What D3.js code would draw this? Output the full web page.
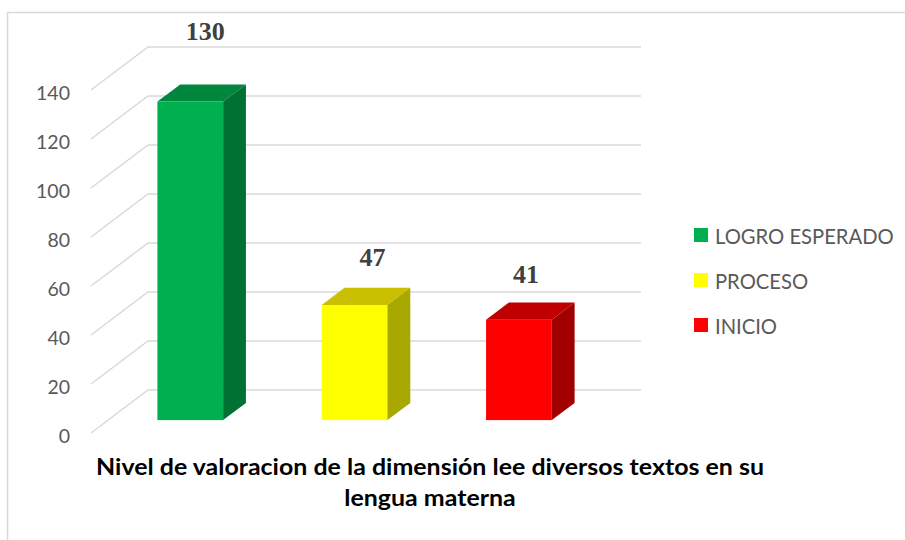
<!DOCTYPE html>
<html>
<head>
<meta charset="utf-8">
<script src="https://cdn.jsdelivr.net/npm/d3@7"></script>
<style>
  body { margin: 0; background: #fff; }
  svg { display: block; }
</style>
</head>
<body>
<script>
//Chart data//
var categories = ["LOGRO ESPERADO", "PROCESO", "INICIO"];
var values = [130, 47, 41];
var yTicks = [0, 20, 40, 60, 80, 100, 120, 140];
var titleLines = ["Nivel de valoracion de la dimensión lee diversos textos en su", "lengua materna"];

//Colours: front, top, side
var colors = {
  "LOGRO ESPERADO": ["#00b050", "#00873d", "#007033"],
  "PROCESO": ["#ffff00", "#c8c000", "#a8a800"],
  "INICIO": ["#ff0000", "#c00000", "#a00000"]
};

var W = 905, H = 540;
//depth vector from back wall to front edge of floor
var dx = -57, dy = 43;
var fFront = 0.7, fBack = 0.3;

var svg = d3.select("body")
  .append("svg")
  .attr("width", W)
  .attr("height", H);

//outer frame
svg.append("rect")
  .attr("x", 7.5).attr("y", 12.5)
  .attr("width", W).attr("height", H)
  .style("fill", "#fff")
  .style("stroke", "#d9d9d9")
  .style("stroke-width", 1.5);

//Scales on the back wall
var x = d3.scaleBand()
  .domain(categories)
  .range([148, 641])
  .paddingInner(0.6)
  .paddingOuter(0.3);
var y = d3.scaleLinear()
  .domain([0, 140])
  .range([390, 47]);

function proj(px, py, f) {
  return [px + f * dx, py + f * dy];
}

//Gridlines: diagonal on the side wall + back wall line
var x0 = x.range()[0], x1 = x.range()[1];
svg.append("g").selectAll("path")
  .data(yTicks)
  .enter()
  .append("path")
  .attr("d", function(t) {
    var p = proj(x0, y(t), 1);
    return "M" + p[0] + "," + p[1] + "L" + x0 + "," + y(t) + "L" + x1 + "," + y(t);
  })
  .style("fill", "none")
  .style("stroke", "#d9d9d9")
  .style("stroke-width", 1.5);

//Tick labels
svg.append("g").selectAll("text")
  .data(yTicks)
  .enter()
  .append("text")
  .attr("x", 70)
  .attr("y", function(t) { return y(t) + dy + 2; })
  .attr("text-anchor", "end")
  .attr("dominant-baseline", "central")
  .style("font-family", "Lato, 'Open Sans', sans-serif")
  .style("font-size", "19.5px")
  .style("fill", "#595959")
  .text(function(t) { return t; });

//3D bars
var bars = svg.append("g").selectAll("g")
  .data(categories)
  .enter()
  .append("g");

bars.each(function(c, i) {
  var g = d3.select(this);
  var v = values[i];
  var bx = x(c), bw = x.bandwidth();
  var fl = proj(bx, y(0), fFront), ft = proj(bx, y(v), fFront);
  var bl = proj(bx, y(0), fBack), bt = proj(bx, y(v), fBack);
  var col = colors[c];
  //front face
  g.append("rect")
    .attr("x", ft[0]).attr("y", ft[1])
    .attr("width", bw).attr("height", fl[1] - ft[1])
    .style("fill", col[0]);
  //top face
  g.append("polygon")
    .attr("points", [
      [ft[0], ft[1]], [ft[0] + bw, ft[1]], [bt[0] + bw, bt[1]], [bt[0], bt[1]]
    ].join(" "))
    .style("fill", col[1]);
  //side face
  g.append("polygon")
    .attr("points", [
      [ft[0] + bw, ft[1]], [bt[0] + bw, bt[1]], [bl[0] + bw, bl[1]], [fl[0] + bw, fl[1]]
    ].join(" "))
    .style("fill", col[2]);
});

//Value labels (130 sits higher, as in the original)
var lift = [44, 22, 19];
var nudge = [15, 18, 7];
svg.append("g").selectAll("text")
  .data(categories)
  .enter()
  .append("text")
  .attr("x", function(c, i) { return proj(x(c), 0, fFront)[0] + x.bandwidth() / 2 + nudge[i]; })
  .attr("y", function(c, i) { return proj(0, y(values[i]), fBack)[1] - lift[i]; })
  .attr("text-anchor", "middle")
  .style("font-family", "'Liberation Serif', 'Times New Roman', serif")
  .style("font-weight", "bold")
  .style("font-size", "26px")
  .style("fill", "#404040")
  .text(function(c, i) { return values[i]; });

//Legend
var legend = svg.append("g").selectAll("g")
  .data(categories)
  .enter()
  .append("g")
  .attr("transform", function(c, i) { return "translate(694," + (235 + i * 45) + ")"; });
legend.append("rect")
  .attr("x", 0).attr("y", -7)
  .attr("width", 14).attr("height", 14)
  .style("fill", function(c) { return colors[c][0]; });
legend.append("text")
  .attr("x", 21).attr("y", 1)
  .attr("dominant-baseline", "central")
  .style("font-family", "Lato, 'Open Sans', sans-serif")
  .style("font-size", "20.2px")
  .style("fill", "#595959")
  .text(function(c) { return c; });

//Axis title (slightly stretched to match the wide original font)
svg.append("g")
  .attr("transform", "translate(430,0) scale(1.11,1)")
  .selectAll("text")
  .data(titleLines)
  .enter()
  .append("text")
  .attr("x", 0)
  .attr("y", function(d, i) { return 466 + i * 31; })
  .attr("text-anchor", "middle")
  .attr("dominant-baseline", "central")
  .style("font-family", "Lato, 'Open Sans', sans-serif")
  .style("font-weight", "bold")
  .style("font-size", "22.5px")
  .style("fill", "#000")
  .text(function(d) { return d; });
</script>
</body>
</html>
